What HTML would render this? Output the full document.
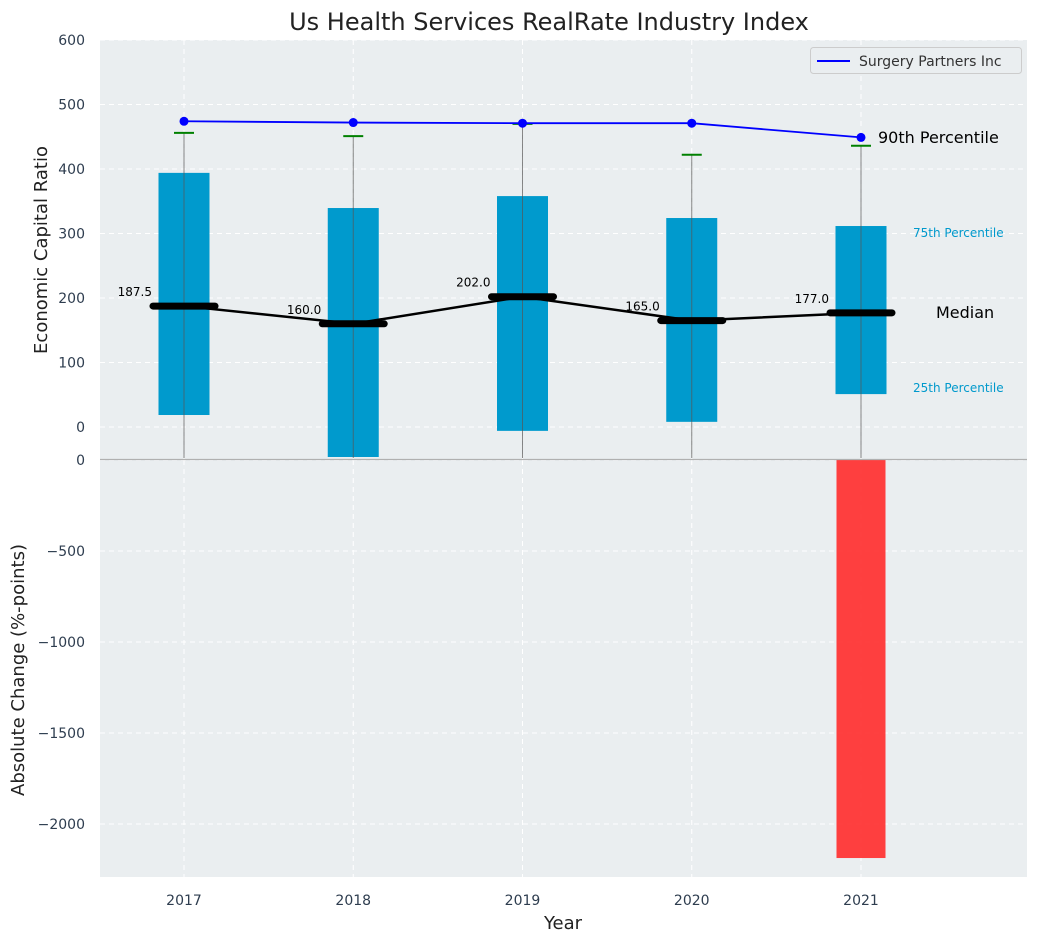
<!DOCTYPE html>
<html><head><meta charset="utf-8"><style>
body{margin:0;background:#fff;}
svg text{font-family:"DejaVu Sans","Liberation Sans",sans-serif;}
</style></head><body>
<svg id="chart" width="1039" height="942" xmlns="http://www.w3.org/2000/svg">
<rect x="100" y="40" width="927" height="419" fill="#eaeef0"/>
<rect x="100" y="460" width="927" height="417" fill="#eaeef0"/>
<g id="grid"></g>
<g id="marks"></g>
<g id="axes"></g>
<line x1="100" y1="459.5" x2="1027" y2="459.5" stroke="#b0b0b0" stroke-width="1.2"/>
<text x="549" y="30" font-size="24" text-anchor="middle" fill="#222">Us Health Services RealRate Industry Index</text>
<text x="47" y="250" font-size="18" text-anchor="middle" fill="#222" transform="rotate(-90 47 250)">Economic Capital Ratio</text>
<text x="24" y="670" font-size="18" text-anchor="middle" fill="#222" transform="rotate(-90 24 670)">Absolute Change (%-points)</text>
<text x="563" y="929" font-size="18" text-anchor="middle" fill="#222">Year</text>
<g>
<rect x="810.5" y="47.5" width="211" height="26" rx="3" fill="#eaeef0" stroke="#ccc"/>
<line x1="817" y1="61" x2="850" y2="61" stroke="#0000ff" stroke-width="2"/>
<text x="859" y="66" font-size="14" fill="#333">Surgery Partners Inc</text>
</g>
<text x="878" y="143" font-size="16" fill="#000">90th Percentile</text>
<text x="913" y="237" font-size="12" fill="#0099cc">75th Percentile</text>
<text x="936" y="318" font-size="16" fill="#000">Median</text>
<text x="913" y="392" font-size="12" fill="#0099cc">25th Percentile</text>
</svg>
<script>
const years=[2017,2018,2019,2020,2021];
const p25=[18.6,-46.5,-6,8,51];
const p75=[394,339.5,358,324,311.6];
const medians=[187.5,160,202,165,177];
const p90=[456,451,470,422,436];
const company=[474,472,471,471,449];
const changes=[0,0,0,0,-2187];
const topTicks=[0,100,200,300,400,500,600];
const botTicks=[0,-500,-1000,-1500,-2000];

const NS="http://www.w3.org/2000/svg";
const xS=v=>184+(v-2017)*169.25;
const yT=v=>427-v*0.645;
const yB=v=>460-v*0.182;
const grid=document.getElementById('grid'),marks=document.getElementById('marks'),axes=document.getElementById('axes');
function mk(tag,attrs,parent,txt){const e=document.createElementNS(NS,tag);for(const k in attrs)e.setAttribute(k,attrs[k]);if(txt!==undefined)e.textContent=txt;parent.appendChild(e);return e;}

topTicks.forEach(t=>{
 const l=mk('line',{x1:100,x2:1027,y1:yT(t),y2:yT(t),stroke:'#fff','stroke-dasharray':'5,4','stroke-width':1},grid);
 
 
 const tx=mk('text',{x:85,y:yT(t)+5,'font-size':14,'text-anchor':'end',fill:'#2e3d4f'},axes,String(t));
 
 
});
botTicks.forEach(t=>{
 const l=mk('line',{x1:100,x2:1027,y1:yB(t),y2:yB(t),stroke:'#fff','stroke-dasharray':'5,4','stroke-width':1},grid);
 
 
 const tx=mk('text',{x:85,y:yB(t)+5,'font-size':14,'text-anchor':'end',fill:'#2e3d4f'},axes,String(t).replace('-','\u2212'));
 
 
});
years.forEach(y=>{
 [[40,459],[460,877]].forEach(r=>{
  const l=mk('line',{x1:xS(y),x2:xS(y),y1:r[0],y2:r[1],stroke:'#fff','stroke-dasharray':'5,4','stroke-width':1},grid);
  
  
 });
 const tx=mk('text',{x:xS(y),y:905,'font-size':14,'text-anchor':'middle',fill:'#2e3d4f'},axes,String(y));
 
 
});

years.forEach((y,i)=>{
 const x=xS(y),bw=51;
 const top=yT(p75[i]),bot=Math.min(yT(p25[i]),458);
 const b=mk('rect',{x:x-bw/2,y:top,width:bw,height:bot-top,fill:'#009acd'},marks);
 
 
 const w=mk('line',{x1:x,x2:x,y1:458,y2:yT(p90[i]),stroke:'#555','stroke-opacity':0.7,'stroke-width':1},marks);
 
 
 const c=mk('line',{x1:x-10,x2:x+10,y1:yT(p90[i]),y2:yT(p90[i]),stroke:'#008000','stroke-width':2},marks);
 
 
 if(changes[i]!==0){
  const y0=Math.min(yB(0),yB(changes[i])),y1=Math.max(yB(0),yB(changes[i]));
  const r=mk('rect',{x:x-24.5,y:y0,width:49,height:y1-y0,fill:'#ff3030','fill-opacity':0.92},marks);
  
  
 }
});
const mp=mk('polyline',{points:years.map((y,i)=>xS(y)+','+yT(medians[i])).join(' '),fill:'none',stroke:'#000','stroke-width':2.5},marks);


years.forEach((y,i)=>{
 const x=xS(y),yy=yT(medians[i]);
 const m=mk('line',{x1:x-31,x2:x+31,y1:yy,y2:yy,stroke:'#000','stroke-width':7,'stroke-linecap':'round'},marks);
 
 
 const t=mk('text',{x:x-32,y:yy-10,'font-size':12,'text-anchor':'end',fill:'#000'},marks,medians[i].toFixed(1));
 
 
});
const cp=mk('polyline',{points:years.map((y,i)=>xS(y)+','+yT(company[i])).join(' '),fill:'none',stroke:'#0000ff','stroke-width':1.8},marks);


years.forEach((y,i)=>{
 const d=mk('circle',{cx:xS(y),cy:yT(company[i]),r:4.5,fill:'#0000ff'},marks);
 
 
});
</script>
</body></html>
